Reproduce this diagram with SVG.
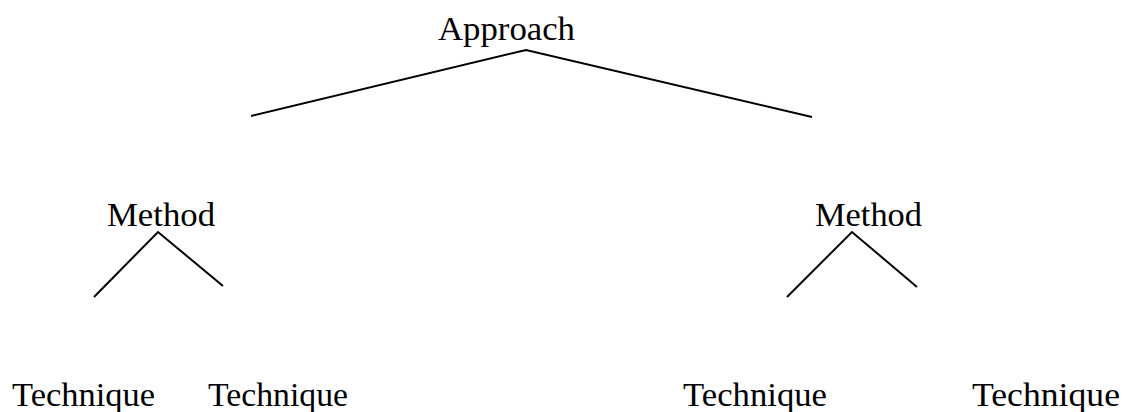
<svg xmlns="http://www.w3.org/2000/svg" width="1125" height="412" viewBox="0 0 1125 412">
  <style>
    .lbl { font-family: "Liberation Serif", "Times New Roman", serif; font-size: 33px; fill: #000; }
    .tech { font-family: "Liberation Serif", "Times New Roman", serif; font-size: 34px; fill: #000; }
    .edge { stroke: #000; stroke-width: 2; fill: none; }
  </style>
  <rect width="1125" height="412" fill="#fff"/>

  <g id="connectors">
    <polyline class="edge" points="251,116 526,50 812,117"/>
    <polyline class="edge" points="94,297 158,232 223,286"/>
    <polyline class="edge" points="787,297 852,232 917,287"/>
  </g>

  <g id="approach">
    <text class="lbl" x="438" y="40" textLength="137" lengthAdjust="spacingAndGlyphs">Approach</text>
  </g>
  <g id="method-left">
    <text class="lbl" x="107" y="226" textLength="108" lengthAdjust="spacingAndGlyphs">Method</text>
  </g>
  <g id="method-right">
    <text class="lbl" x="815" y="226" textLength="107" lengthAdjust="spacingAndGlyphs">Method</text>
  </g>
  <g id="technique-1">
    <text class="tech" x="12" y="406" textLength="143" lengthAdjust="spacingAndGlyphs">Technique</text>
  </g>
  <g id="technique-2">
    <text class="tech" x="208" y="406" textLength="140" lengthAdjust="spacingAndGlyphs">Technique</text>
  </g>
  <g id="technique-3">
    <text class="tech" x="683" y="406" textLength="144" lengthAdjust="spacingAndGlyphs">Technique</text>
  </g>
  <g id="technique-4">
    <text class="tech" x="972" y="406" textLength="148" lengthAdjust="spacingAndGlyphs">Technique</text>
  </g>
</svg>
